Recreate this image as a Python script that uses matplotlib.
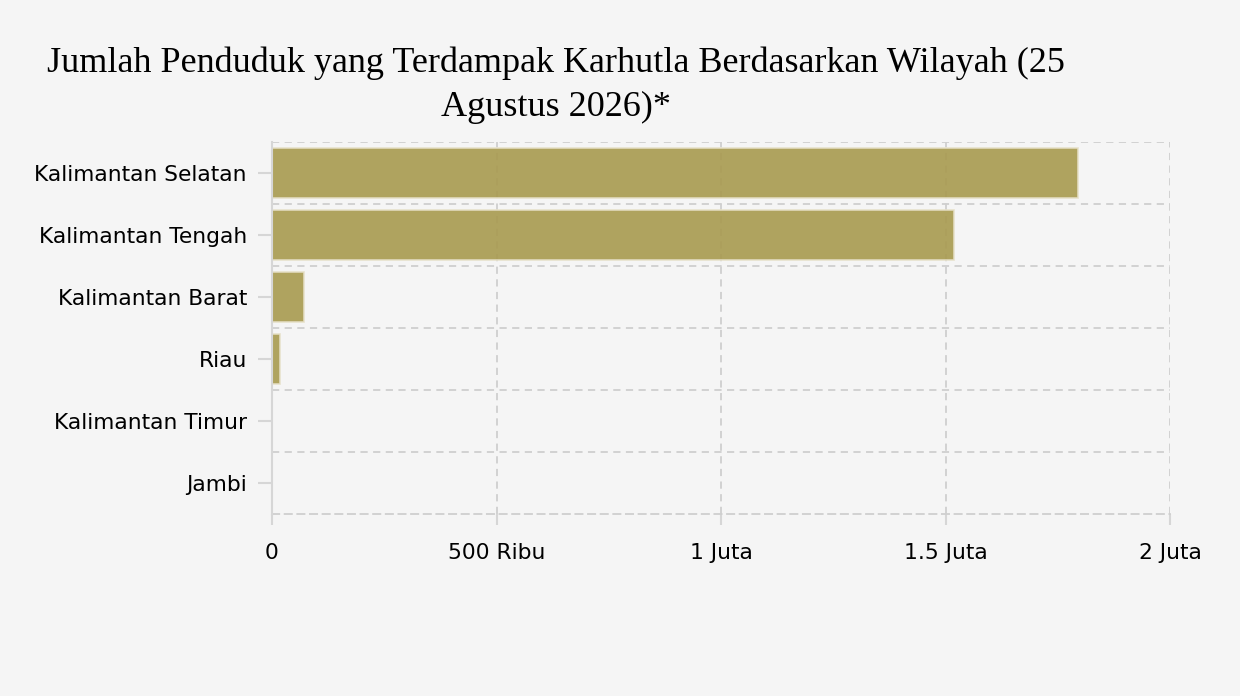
import matplotlib
matplotlib.use("Agg")
import matplotlib.pyplot as plt
from matplotlib.ticker import FixedLocator

# data (people affected)
regions = ["Kalimantan Selatan", "Kalimantan Tengah", "Kalimantan Barat",
           "Riau", "Kalimantan Timur", "Jambi"]
affected = [1795000, 1519000, 71000, 18000, 300, 100]
xticks = [0, 500000, 1000000, 1500000, 2000000]
xlabels = ["0", "500 Ribu", "1 Juta", "1.5 Juta", "2 Juta"]

bg = "#f5f5f5"
grid_c = "#cfcfcf"

fig = plt.figure(figsize=(12.4, 6.96), dpi=100, facecolor=bg)
ax = fig.add_axes([272 / 1240, 1 - 514 / 696, (1170 - 272) / 1240, (514 - 142) / 696])
ax.set_facecolor(bg)

ypos = list(range(len(regions)))[::-1]
ax.barh(ypos, affected, height=0.8, color="#a89a4f", alpha=0.9,
        edgecolor="#e6e0c8", linewidth=1.2, zorder=2)

ax.set_xlim(0, 2000000)
ax.set_ylim(-0.5, len(regions) - 0.5)
ax.set_yticks(ypos)
ax.set_yticklabels(regions, fontsize=15.7, family="DejaVu Sans")
ax.set_xticks(xticks)
ax.set_xticklabels(xlabels, fontsize=15.7, family="DejaVu Sans")

# grid: vertical at ticks, horizontal between categories
ax.yaxis.set_minor_locator(FixedLocator([i + 0.5 for i in range(len(regions))]))
ax.grid(True, axis="x", which="major", color=grid_c, linestyle=(0, (4, 3)), linewidth=1.3, zorder=0)
ax.grid(True, axis="y", which="minor", color=grid_c, linestyle=(0, (4, 3)), linewidth=1.3, zorder=0)
ax.tick_params(axis="y", which="minor", length=0)

for side in ["top", "right"]:
    ax.spines[side].set_visible(False)
ax.spines["left"].set_color("#d6d6d6")
ax.spines["left"].set_linewidth(1.5)
ax.spines["left"].set_zorder(4)
ax.spines["bottom"].set_color(grid_c)
ax.spines["bottom"].set_linestyle((0, (4, 3)))
ax.spines["bottom"].set_linewidth(1.3)
ax.tick_params(axis="y", which="major", length=10, color="#d6d6d6", width=1.5, pad=8)
ax.tick_params(axis="x", which="major", length=8, color="#d6d6d6", width=1.5, pad=13)

fig.text(556 / 1240, 1 - 63 / 696, "Jumlah Penduduk yang Terdampak Karhutla Berdasarkan Wilayah (25",
         ha="center", va="center", fontsize=26, family="Liberation Serif")
fig.text(556 / 1240, 1 - 107 / 696, "Agustus 2026)*",
         ha="center", va="center", fontsize=26, family="Liberation Serif")

fig.savefig("out.png", dpi=100, facecolor=bg)
